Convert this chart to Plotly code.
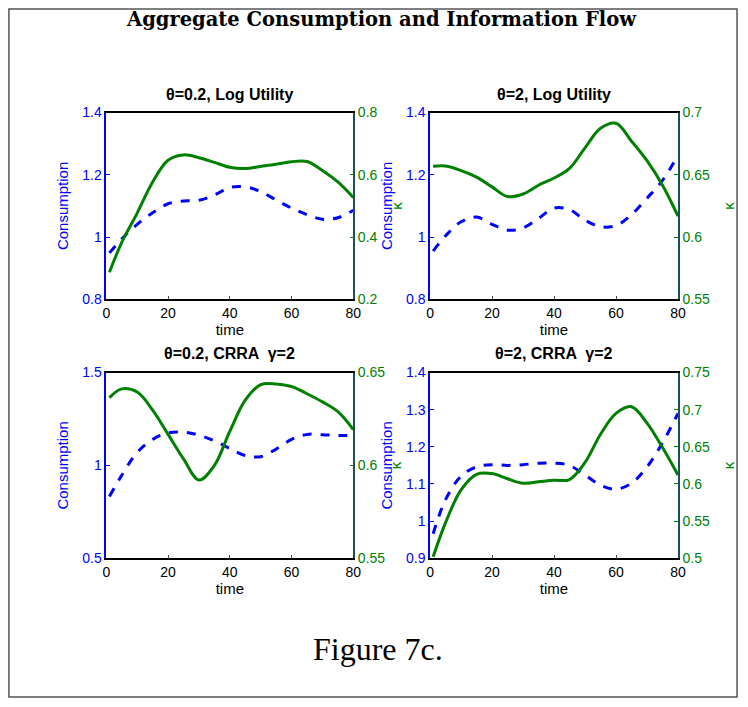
import plotly.graph_objects as go

# time grid shared by every panel
time = [1, 5, 10, 15, 20, 25, 30, 35, 40, 45, 50, 55, 60, 65, 70, 75, 80]

# theta=0.2, log utility
cons_a = [0.949, 0.994, 1.041, 1.078, 1.107, 1.116, 1.118, 1.135, 1.159, 1.161, 1.146, 1.119, 1.093, 1.072, 1.057, 1.062, 1.086]
kappa_a = [0.287, 0.383, 0.477, 0.577, 0.647, 0.664, 0.655, 0.640, 0.624, 0.620, 0.627, 0.634, 0.642, 0.643, 0.614, 0.577, 0.527]

# theta=2, log utility
cons_b = [0.955, 1.004, 1.049, 1.064, 1.041, 1.022, 1.029, 1.060, 1.093, 1.088, 1.054, 1.033, 1.037, 1.072, 1.125, 1.182, 1.263]
kappa_b = [0.6568, 0.657, 0.6534, 0.6482, 0.6403, 0.6325, 0.6346, 0.6416, 0.6474, 0.6552, 0.6717, 0.6874, 0.6914, 0.677, 0.6613, 0.6416, 0.6168]

# theta=0.2, CRRA gamma=2
cons_c = [0.833, 0.947, 1.070, 1.140, 1.175, 1.179, 1.163, 1.132, 1.091, 1.053, 1.047, 1.088, 1.140, 1.167, 1.165, 1.161, 1.161]
kappa_c = [0.6365, 0.6412, 0.6395, 0.6298, 0.6167, 0.6035, 0.5921, 0.600, 0.6184, 0.6351, 0.6435, 0.6439, 0.6425, 0.6386, 0.6342, 0.6289, 0.6193]

# theta=2, CRRA gamma=2
cons_d = [0.966, 1.058, 1.121, 1.146, 1.152, 1.150, 1.152, 1.156, 1.156, 1.150, 1.124, 1.097, 1.086, 1.102, 1.146, 1.211, 1.290]
kappa_d = [0.502, 0.548, 0.592, 0.613, 0.614, 0.607, 0.601, 0.603, 0.605, 0.606, 0.629, 0.667, 0.695, 0.704, 0.682, 0.649, 0.612]

titles = ['\u03b8=0.2, Log Utility', '\u03b8=2, Log Utility',
          '\u03b8=0.2, CRRA  \u03b3=2', '\u03b8=2, CRRA  \u03b3=2']
cons_ranges = [[0.8, 1.4], [0.8, 1.4], [0.5, 1.5], [0.9, 1.4]]
cons_dtick = [0.2, 0.2, 0.5, 0.1]
kappa_ranges = [[0.2, 0.8], [0.55, 0.7], [0.55, 0.65], [0.5, 0.75]]
kappa_dtick = [0.2, 0.05, 0.05, 0.05]

cons = [cons_a, cons_b, cons_c, cons_d]
kappa = [kappa_a, kappa_b, kappa_c, kappa_d]

W, H = 748, 707
BLUE = '#0000ff'
GREEN = '#008000'
FONT = 'Liberation Sans, Arial'


def px(x):
    return x / W


def py(y):
    return 1 - y / H


# plot boxes in window pixels: left, right, top, bottom
boxes = [(104, 355, 107, 298), (433, 685, 107, 298),
         (104, 355, 373, 563), (433, 685, 373, 563)]
kappa_gap = [15, 14, 6, 14]

fig = go.Figure()
layout = {}

for i in range(4):
    l, r, t, b = boxes[i]
    xn = 'x' if i == 0 else 'x' + str(i + 1)
    yl = 2 * i + 1
    yr = 2 * i + 2
    yln = 'y' if yl == 1 else 'y' + str(yl)
    yrn = 'y' + str(yr)

    fig.add_trace(go.Scatter(x=time, y=cons[i], xaxis=xn, yaxis=yln,
                             mode='lines', line=dict(color=BLUE, width=3, dash='dash', shape='spline'),
                             showlegend=False))
    fig.add_trace(go.Scatter(x=time, y=kappa[i], xaxis=xn, yaxis=yrn,
                             mode='lines', line=dict(color=GREEN, width=3, shape='spline'),
                             showlegend=False))

    xkey = 'xaxis' if i == 0 else 'xaxis' + str(i + 1)
    layout[xkey] = dict(domain=[px(l), px(r)], anchor=yln, range=[0, 80], dtick=20,
                        showgrid=False, zeroline=False, showline=True, linecolor='black',
                        linewidth=1.5, mirror=True, ticks='inside', ticklen=4,
                        tickfont=dict(family=FONT, size=14, color='black'),
                        title=dict(text='time', standoff=3,
                                   font=dict(family=FONT, size=15, color='black')))
    ykey = 'yaxis' if yl == 1 else 'yaxis' + str(yl)
    layout[ykey] = dict(domain=[py(b), py(t)], anchor=xn, range=cons_ranges[i],
                        dtick=cons_dtick[i], tick0=0, showgrid=False, zeroline=False,
                        showline=True, linecolor=BLUE, linewidth=1.5, ticks='inside',
                        ticklen=4, tickcolor=BLUE,
                        tickfont=dict(family=FONT, size=14, color=BLUE),
                        title=dict(text='Consumption', standoff=10,
                                   font=dict(family=FONT, size=15, color=BLUE)))
    layout['yaxis' + str(yr)] = dict(domain=[py(b), py(t)], anchor=xn, overlaying=yln,
                                     side='right', range=kappa_ranges[i], dtick=kappa_dtick[i],
                                     tick0=0, showgrid=False, zeroline=False, showline=True,
                                     linecolor='#1b4f5f', linewidth=1.5, ticks='inside',
                                     ticklen=4, tickcolor=GREEN,
                                     tickfont=dict(family=FONT, size=14, color=GREEN),
                                     title=dict(text='\u03ba', standoff=kappa_gap[i],
                                                font=dict(family=FONT, size=15, color=GREEN)))

    fig.add_annotation(x=px((l + r) / 2), y=py(t - 19), xref='paper', yref='paper',
                       xanchor='center', yanchor='middle',
                       text='<b>' + titles[i] + '</b>', showarrow=False,
                       font=dict(family=FONT, size=16, color='black'))

fig.add_annotation(x=px(384), y=py(12), xref='paper', yref='paper',
                   xanchor='center', yanchor='middle',
                   text='<b>Aggregate Consumption and Information Flow</b>', showarrow=False,
                   font=dict(family='DejaVu Serif', size=19.5, color='black'))
fig.add_annotation(x=px(380), y=py(656), xref='paper', yref='paper',
                   xanchor='center', yanchor='middle',
                   text='Figure 7c.', showarrow=False,
                   font=dict(family='Liberation Serif', size=32, color='black'))

# outer frame
fig.add_shape(type='rect', xref='paper', yref='paper',
              x0=px(5), x1=px(745), y0=py(705), y1=py(1),
              line=dict(color='#555555', width=1.5))

fig.update_layout(layout)
fig.update_layout(width=W, height=H, margin=dict(l=0, r=0, t=0, b=0),
                  paper_bgcolor='white', plot_bgcolor='white')

# drop the default body margin so the 748x707 figure fills the window exactly
fig.write_html('out.html', config={'displayModeBar': False},
               post_script="document.body.style.margin='0px';")
